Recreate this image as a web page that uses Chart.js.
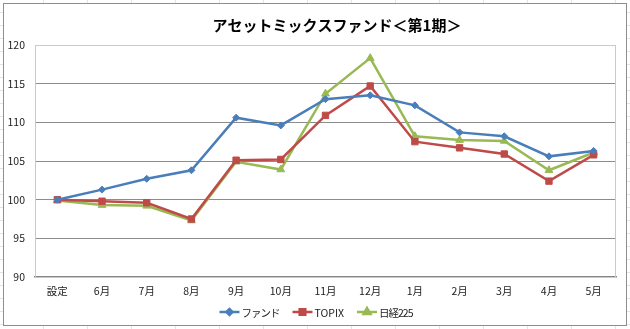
<!DOCTYPE html>
<html>
<head>
<meta charset="utf-8">
<script src="https://cdn.jsdelivr.net/npm/chart.js@4"></script>
<style>
  html, body { margin: 0; padding: 0; }
  body {
    width: 630px; height: 329px; position: relative; overflow: hidden;
    background-color: #fff;
    background-image:
      repeating-linear-gradient(to right, transparent 0 43px, #e4e4e4 43px 44px),
      repeating-linear-gradient(to bottom, transparent 0 12px, #e4e4e4 12px 13px);
  }
  #frame {
    position: absolute; left: 3px; top: 3px; width: 624px; height: 323px;
    box-sizing: border-box; border: 1px solid #8e8e8e; background: #fff;
  }
  #wrap { position: absolute; left: 0; top: 0; width: 630px; height: 329px; }
</style>
</head>
<body>
<div id="frame"></div>
<div id="wrap"><canvas id="c" width="630" height="329"></canvas></div>
<script>
// データ（読み取り値）
const titleText = 'アセットミックスファンド＜第1期＞';
const months = ['設定', '6月', '7月', '8月', '9月', '10月', '11月', '12月', '1月', '2月', '3月', '4月', '5月'];
const fund   = [100, 101.3, 102.7, 103.8, 110.6, 109.6, 113.0, 113.5, 112.2, 108.7, 108.2, 105.6, 106.3];
const topix  = [100, 99.8, 99.6, 97.5, 105.1, 105.2, 110.9, 114.7, 107.5, 106.7, 105.9, 102.4, 105.8];
const nikkei = [99.9, 99.3, 99.2, 97.3, 104.9, 103.9, 113.7, 118.3, 108.2, 107.7, 107.6, 103.8, 106.1];
const seriesNames = ['ファンド', 'TOPIX', '日経225'];
const yTicks = [90, 95, 100, 105, 110, 115, 120];

const FONT = "'Noto Sans CJK JP', 'Noto Sans', sans-serif";
const BLUE = '#4a7ebb', RED = '#be4b48', GREEN = '#98b954';

// 凡例の文字間（かなは詰める）
const spacingFor = s => /^[\x20-\x7e]+$/.test(s) ? '0px' : '-1px';

// タイトルと凡例、プロット枠
const decor = {
  id: 'decor',
  beforeDatasetsDraw(chart) {
    const { ctx, chartArea: a } = chart;
    ctx.save();
    ctx.strokeStyle = '#b9cde5';
    ctx.lineWidth = 1;
    ctx.strokeRect(a.left + 0.5, a.top + 0.5, a.right - a.left - 1, a.bottom - a.top);
    ctx.restore();
  },
  afterDraw(chart) {
    const ctx = chart.ctx;
    ctx.save();
    ctx.fillStyle = '#000';
    ctx.font = 'bold 15px ' + FONT;
    ctx.textAlign = 'center';
    ctx.textBaseline = 'middle';
    ctx.fillText(titleText, 337, 25);

    // 凡例
    ctx.font = '10.5px ' + FONT;
    ctx.textAlign = 'left';
    const lineW = 20, gap = 2, itemGap = 13;
    const items = chart.data.datasets.map(ds => {
      ctx.letterSpacing = spacingFor(ds.label);
      return { ds, w: lineW + gap + ctx.measureText(ds.label).width };
    });
    const total = items.reduce((s, it) => s + it.w, 0) + itemGap * (items.length - 1);
    let x = 316 - total / 2;
    const y = 312;
    items.forEach(it => {
      const ds = it.ds;
      ctx.strokeStyle = ds.borderColor;
      ctx.lineWidth = 2.5;
      ctx.beginPath(); ctx.moveTo(x, y); ctx.lineTo(x + lineW, y); ctx.stroke();
      Chart.helpers.drawPoint(ctx, {
        pointStyle: ds.pointStyle, radius: ds.pointRadius - 0.5, rotation: 0, borderWidth: 1
      }, x + lineW / 2, y);
      ctx.fillStyle = ds.borderColor;
      ctx.fill();
      ctx.fillStyle = '#222';
      ctx.letterSpacing = spacingFor(ds.label);
      ctx.fillText(ds.label, x + lineW + gap, y + 1);
      x += it.w + itemGap;
    });
    ctx.restore();
  }
};

function series(label, data, color, style, r) {
  return {
    label, data,
    borderColor: color, backgroundColor: color,
    borderWidth: 2.5,
    pointStyle: style, pointRadius: r, pointHoverRadius: r,
    pointBackgroundColor: color, pointBorderColor: color, pointBorderWidth: 1,
    tension: 0
  };
}

new Chart(document.getElementById('c'), {
  type: 'line',
  data: {
    labels: months,
    datasets: [
      series(seriesNames[0], fund, BLUE, 'rectRot', 3.5),
      series(seriesNames[1], topix, RED, 'rect', 4.5),
      series(seriesNames[2], nikkei, GREEN, 'triangle', 4.5)
    ]
  },
  options: {
    responsive: false,
    animation: false,
    layout: { padding: { left: 0, top: 45, right: 14, bottom: 0 } },
    plugins: { legend: { display: false }, title: { display: false }, tooltip: { enabled: false } },
    scales: {
      x: {
        offset: true,
        grid: { display: false, drawTicks: false },
        border: { color: '#868686', width: 1.5 },
        ticks: { color: '#222', font: { family: FONT, size: 10.5 }, padding: 8, maxRotation: 0, autoSkip: false },
        afterFit(s) { s.height = 52; }
      },
      y: {
        min: 90, max: 120,
        afterBuildTicks(s) { s.ticks = yTicks.map(v => ({ value: v })); },
        grid: {
          drawTicks: false,
          color: c => (c.tick && (c.tick.value === 120 || c.tick.value === 90)) ? 'rgba(0,0,0,0)' : '#8c8c8c',
          lineWidth: 1
        },
        border: { color: '#b9cde5', width: 1 },
        ticks: { color: '#222', font: { family: FONT, size: 10.5 }, padding: 10 },
        afterFit(s) { s.width = 35; }
      }
    }
  },
  plugins: [decor]
});
</script>
</body>
</html>
